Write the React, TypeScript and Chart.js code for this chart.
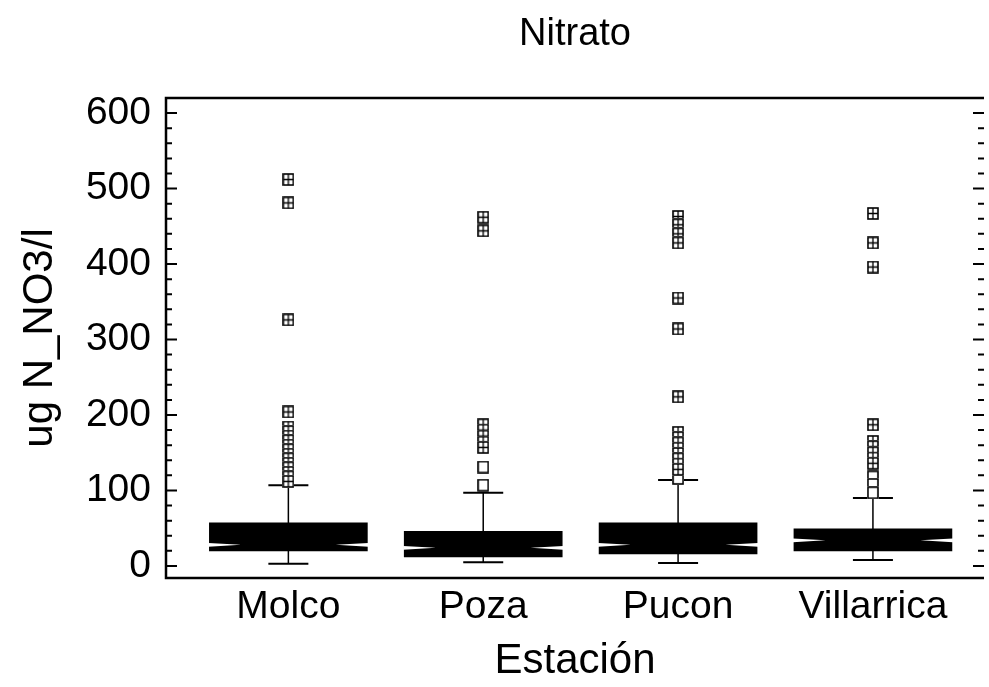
import React, { useEffect, useRef } from "react";
import { Chart, registerables } from "chart.js";

Chart.register(...registerables);

const categories = ["Molco", "Poza", "Pucon", "Villarrica"];
const q1 = [20, 12, 16, 20];
const q3 = [57, 46, 57, 49];
const medians = [28, 24, 28, 34];
const notchHalf = [2.5, 2.5, 2.5, 2.5];
const whiskerLow = [3, 5, 4, 8];
const whiskerHigh = [107, 97, 114, 90];

const farMolco = [512, 481, 326, 204, 184, 178, 172, 166, 160, 154, 148, 142, 136, 130, 124, 118, 112];
const farPoza = [462, 444, 187, 180, 172, 164, 157];
const farPucon = [463, 452, 440, 428, 355, 314, 224, 177, 170, 163, 156, 149, 142, 135, 128];
const farVillarrica = [467, 428, 396, 187, 165, 158, 150, 143, 136];
const nearMolco: number[] = [];
const nearPoza = [131, 107];
const nearPucon = [121, 116];
const nearVillarrica = [118, 108, 97];

const yTickValues = [0, 20, 40, 60, 80, 100, 120, 140, 160, 180, 200, 220, 240, 260, 280, 300, 320, 340, 360, 380, 400, 420, 440, 460, 480, 500, 520, 540, 560, 580, 600];

const FONT = "'Liberation Sans', Arial, sans-serif";

function makeMarker(plus: boolean) {
  const c = document.createElement("canvas");
  c.width = 12;
  c.height = 13;
  const ctx = c.getContext("2d")!;
  ctx.fillStyle = "#fff";
  ctx.fillRect(0, 0, 12, 13);
  ctx.strokeStyle = "#000";
  ctx.lineWidth = 1.6;
  ctx.strokeRect(1, 1, 10, 11);
  if (plus) {
    ctx.lineWidth = 1.3;
    ctx.beginPath();
    ctx.moveTo(6, 1);
    ctx.lineTo(6, 12);
    ctx.moveTo(1, 6.5);
    ctx.lineTo(11, 6.5);
    ctx.stroke();
  }
  return c;
}

export default function App() {
  const ref = useRef<HTMLCanvasElement>(null);
  useEffect(() => {
    const far = makeMarker(true);
    const near = makeMarker(false);
    const farSets = [farMolco, farPoza, farPucon, farVillarrica];
    const nearSets = [nearMolco, nearPoza, nearPucon, nearVillarrica];
    const farPts: { x: number; y: number }[] = [];
    const nearPts: { x: number; y: number }[] = [];
    farSets.forEach((arr, i) => arr.forEach((v) => farPts.push({ x: i + 1, y: v })));
    nearSets.forEach((arr, i) => arr.forEach((v) => nearPts.push({ x: i + 1, y: v })));

    const boxPlugin = {
      id: "boxExtras",
      beforeDatasetsDraw(chart: any) {
        const { ctx, scales } = chart;
        const xs = scales.x, ys = scales.y;
        ctx.save();
        ctx.strokeStyle = "#000";
        categories.forEach((_, i) => {
          const x = xs.getPixelForValue(i + 1);
          ctx.lineWidth = 1.5;
          ctx.beginPath();
          ctx.moveTo(x, ys.getPixelForValue(q3[i]));
          ctx.lineTo(x, ys.getPixelForValue(whiskerHigh[i]));
          ctx.moveTo(x, ys.getPixelForValue(q1[i]));
          ctx.lineTo(x, ys.getPixelForValue(whiskerLow[i]));
          ctx.stroke();
          ctx.lineWidth = 2;
          ctx.beginPath();
          [whiskerHigh[i], whiskerLow[i]].forEach((v) => {
            const y = ys.getPixelForValue(v);
            ctx.moveTo(x - 20, y);
            ctx.lineTo(x + 20, y);
          });
          ctx.stroke();
        });
        ctx.restore();
      },
      afterDatasetsDraw(chart: any) {
        const { ctx, scales, chartArea } = chart;
        const xs = scales.x, ys = scales.y;
        const meta = chart.getDatasetMeta(0);
        ctx.save();
        ctx.fillStyle = "#fff";
        categories.forEach((_, i) => {
          const bar = meta.data[i];
          const half = bar.width / 2;
          const x = xs.getPixelForValue(i + 1);
          const ym = ys.getPixelForValue(medians[i]);
          const yt = ys.getPixelForValue(medians[i] + notchHalf[i]);
          const yb = ys.getPixelForValue(medians[i] - notchHalf[i]);
          const ind = half * 0.4;
          ctx.beginPath();
          ctx.moveTo(x - half - 1, yt);
          ctx.lineTo(x - half + ind, ym);
          ctx.lineTo(x - half - 1, yb);
          ctx.closePath();
          ctx.fill();
          ctx.beginPath();
          ctx.moveTo(x + half + 1, yt);
          ctx.lineTo(x + half - ind, ym);
          ctx.lineTo(x + half + 1, yb);
          ctx.closePath();
          ctx.fill();
        });
        ctx.strokeStyle = "#000";
        ctx.lineWidth = 2.5;
        ctx.beginPath();
        ctx.moveTo(chartArea.right, chartArea.top);
        ctx.lineTo(chartArea.left, chartArea.top);
        ctx.lineTo(chartArea.left, chartArea.bottom);
        ctx.lineTo(chartArea.right, chartArea.bottom);
        ctx.stroke();
        ctx.lineWidth = 2;
        ctx.beginPath();
        yTickValues.forEach((v) => {
          const y = ys.getPixelForValue(v);
          const len = v % 100 === 0 ? 11 : 6;
          ctx.moveTo(chartArea.left, y);
          ctx.lineTo(chartArea.left + len, y);
          ctx.moveTo(chartArea.right, y);
          ctx.lineTo(chartArea.right - len, y);
        });
        ctx.stroke();
        ctx.restore();
      },
    };

    const chart = new Chart(ref.current!, {
      type: "bar",
      data: {
        datasets: [
          {
            type: "bar",
            data: categories.map((_, i) => ({ x: i + 1, y: [q1[i], q3[i]] })) as any,
            backgroundColor: "#000",
            borderWidth: 0,
            barThickness: 158,
            order: 2,
          } as any,
          {
            type: "scatter",
            data: nearPts,
            pointStyle: near,
            order: 1,
          } as any,
          {
            type: "scatter",
            data: farPts,
            pointStyle: far,
            order: 0,
          } as any,
        ],
      },
      options: {
        animation: false,
        responsive: true,
        maintainAspectRatio: false,
        layout: { padding: 0 },
        plugins: {
          legend: { display: false },
          tooltip: { enabled: false },
          title: {
            display: true,
            fullSize: false,
            text: "Nitrato",
            color: "#000",
            font: { family: FONT, size: 38, weight: "normal" },
            padding: { top: 12, bottom: 40.4 },
          },
        },
        scales: {
          x: {
            type: "linear",
            offset: false,
            min: 0.372,
            max: 4.57,
            afterBuildTicks: (s: any) => {
              s.ticks = categories.map((_, i) => ({ value: i + 1 }));
            },
            afterFit: (s: any) => {
              s.height = 109;
            },
            grid: { display: false, drawTicks: false, offset: false },
            border: { display: false },
            ticks: {
              autoSkip: false,
              maxRotation: 0,
              padding: 6,
              color: "#000",
              font: { family: FONT, size: 39 },
              callback: (v: any) => categories[Number(v) - 1] ?? "",
            },
            title: {
              display: true,
              text: "Estación",
              color: "#000",
              font: { family: FONT, size: 42 },
              padding: { top: 0, bottom: 0 },
            },
          },
          y: {
            type: "linear",
            min: -16,
            max: 620,
            afterBuildTicks: (s: any) => {
              s.ticks = yTickValues.map((v) => ({ value: v }));
            },
            afterFit: (s: any) => {
              s.width = 166;
            },
            grid: { display: false, drawTicks: false },
            border: { display: false },
            ticks: {
              autoSkip: false,
              padding: 15,
              color: "#000",
              font: { family: FONT, size: 39 },
              callback: (v: any) => (Number(v) % 100 === 0 ? String(v) : ""),
            },
            title: {
              display: true,
              text: "ug N_NO3/l",
              color: "#000",
              font: { family: FONT, size: 42 },
              padding: { top: 15, bottom: 0 },
            },
          },
        },
      },
      plugins: [boxPlugin],
    });
    return () => chart.destroy();
  }, []);

  return (
    <div style={{ position: "absolute", left: 0, top: 0, width: 989, height: 687, background: "#fff" }}>
      <canvas ref={ref} />
    </div>
  );
}
